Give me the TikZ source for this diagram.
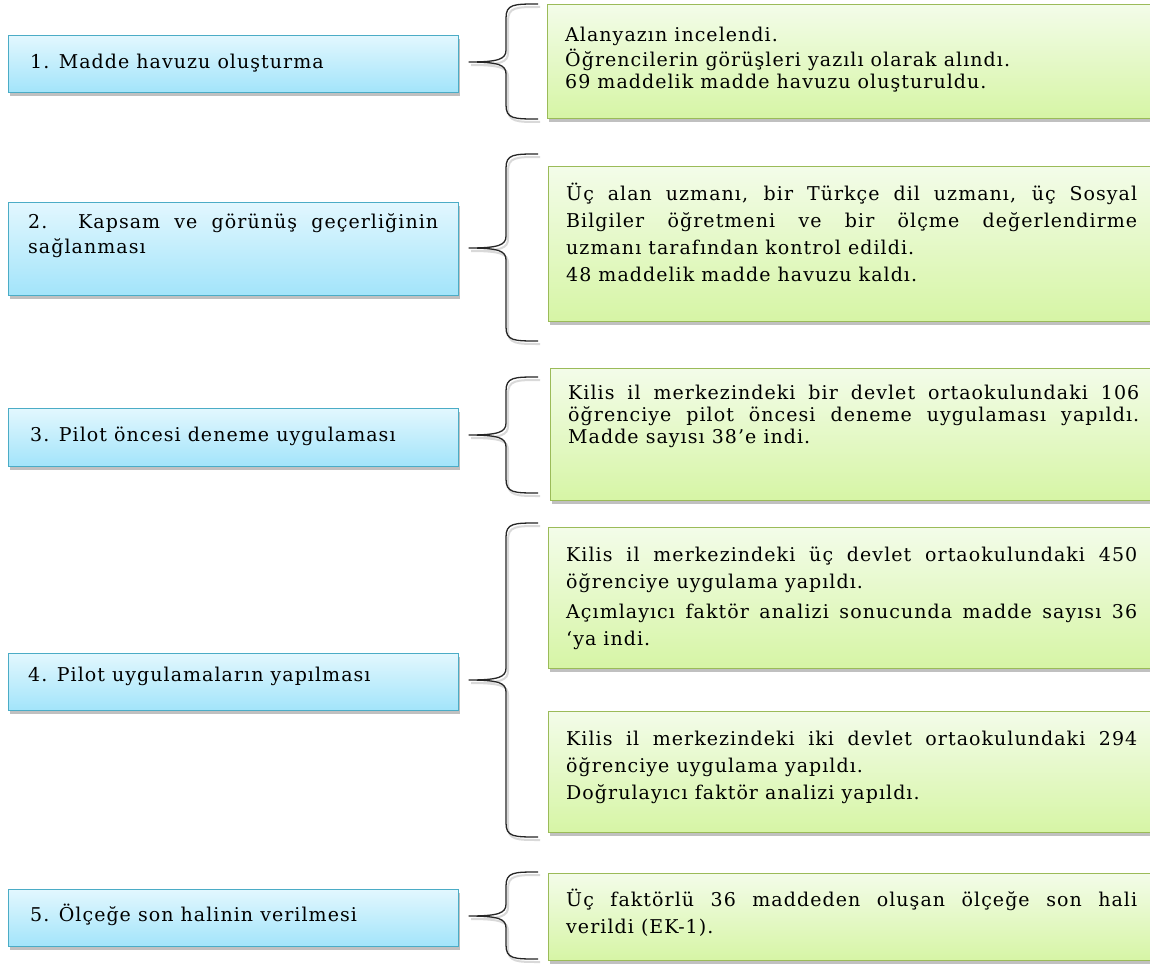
\documentclass[tikz,border=0pt]{standalone}
\usepackage{fontspec}
\setmainfont{DejaVu Serif}[LetterSpace=5.5]
\usetikzlibrary{shadows}

\definecolor{bluetop}{HTML}{E2F7FE}
\definecolor{bluebot}{HTML}{A2E4FA}
\definecolor{blueline}{HTML}{4BACC6}
\definecolor{greentop}{HTML}{F3FCE9}
\definecolor{greenbot}{HTML}{D6F5A5}
\definecolor{greenline}{HTML}{9BBB59}

\tikzset{
  boxshadow/.style={drop shadow={shadow xshift=1pt, shadow yshift=-3pt, opacity=0.35, fill=black!70}},
  stepbox/.style={draw=blueline, line width=1.2pt, top color=bluetop, bottom color=bluebot,
    anchor=north west, inner sep=0pt, minimum width=450pt, boxshadow},
  infobox/.style={draw=greenline, line width=1.2pt, top color=greentop, bottom color=greenbot,
    anchor=north west, inner sep=0pt, minimum width=620pt, boxshadow},
  steptext/.style={anchor=north west, inner sep=0pt, text width=410pt, align=justify, text=black},
  infotext/.style={anchor=north west, inner sep=0pt, text width=571pt, align=justify, text=black},
  bracelinestyle/.style={line width=1.3pt, black!85, line join=round},
  braceshade/.style={line width=2pt, black!15}
}

\newcommand{\curlybrace}[4][bracelinestyle]{%
  \draw[#1] (538,#2) .. controls (514,#2) and (506,#2) .. (506,#2+14)
    -- (506,#3-12) .. controls (506,#3-3) and (499,#3) .. (469,#3)
    .. controls (499,#3) and (506,#3+3) .. (506,#3+12)
    -- (506,#4-14) .. controls (506,#4) and (514,#4) .. (538,#4);
}

\begin{document}
\begin{tikzpicture}[x=1pt,y=-1pt]
\useasboundingbox (0,0) rectangle (1150,963);
\fill[white] (0,0) rectangle (1150,963);
\begin{scope}
\clip (0,0) rectangle (1150,963);

% step boxes (left)
\node[stepbox, minimum height=57pt] (b1) at (8,35) {};
\node[stepbox, minimum height=93pt] (b2) at (8,202) {};
\node[stepbox, minimum height=58pt] (b3) at (8,408) {};
\node[stepbox, minimum height=57pt] (b4) at (8,653) {};
\node[stepbox, minimum height=57pt] (b5) at (8,889) {};

% info boxes (right)
\node[infobox, minimum height=114pt] (g1) at (547,4) {};
\node[infobox, minimum height=155pt] (g2) at (548,166) {};
\node[infobox, minimum height=132pt] (g3) at (550,368) {};
\node[infobox, minimum height=141pt] (g4a) at (548,527) {};
\node[infobox, minimum height=121pt] (g4b) at (548,711) {};
\node[infobox, minimum height=87pt] (g5) at (548,873) {};

% step texts
\node[steptext, font=\fontsize{19}{25}\selectfont] (t1) at (30,51) {\strut 1. Madde havuzu oluşturma};
\node[steptext, font=\fontsize{19}{25}\selectfont] (t2) at (28,211) {\strut 2. Kapsam ve görünüş geçerliğinin\linebreak sağlanması};
\node[steptext, font=\fontsize{19}{25}\selectfont] (t3) at (30,424) {\strut 3. Pilot öncesi deneme uygulaması};
\node[steptext, font=\fontsize{19}{25}\selectfont] (t4) at (28,664) {\strut 4. Pilot uygulamaların yapılması};
\node[steptext, font=\fontsize{19}{25}\selectfont] (t5) at (30,904) {\strut 5. Ölçeğe son halinin verilmesi};

% info texts
\node[infotext, font=\fontsize{19}{21.5}\selectfont] (i1) at (565,26.5) {\strut Alanyazın incelendi.\\ Öğrencilerin görüşleri yazılı olarak alındı.\\ 69 maddelik madde havuzu oluşturuldu.};
\node[infotext, font=\fontsize{19}{27}\selectfont] (i2) at (566,181) {\strut Üç alan uzmanı, bir Türkçe dil uzmanı, üç Sosyal\linebreak Bilgiler öğretmeni ve bir ölçme değerlendirme\linebreak uzmanı tarafından kontrol edildi.\\ 48 maddelik madde havuzu kaldı.};
\node[infotext, font=\fontsize{19}{22}\selectfont] (i3) at (568,384) {\strut Kilis il merkezindeki bir devlet ortaokulundaki 106\linebreak öğrenciye pilot öncesi deneme uygulaması yapıldı.\linebreak Madde sayısı 38’e indi.};
\node[infotext, font=\fontsize{19}{27}\selectfont] (i4a) at (566,542) {\strut Kilis il merkezindeki üç devlet ortaokulundaki 450\linebreak öğrenciye uygulama yapıldı.\\[3pt] Açımlayıcı faktör analizi sonucunda madde sayısı 36\linebreak ‘ya indi.};
\node[infotext, font=\fontsize{19}{27}\selectfont] (i4b) at (566,726) {\strut Kilis il merkezindeki iki devlet ortaokulundaki 294\linebreak öğrenciye uygulama yapıldı.\\ Doğrulayıcı faktör analizi yapıldı.};
\node[infotext, font=\fontsize{19}{27}\selectfont] (i5) at (566,887) {\strut Üç faktörlü 36 maddeden oluşan ölçeğe son hali\linebreak verildi (EK-1).};

% braces
\begin{scope}[shift={(2,3)}]
\curlybrace[braceshade]{4}{62}{119}
\curlybrace[braceshade]{154}{248}{341}
\curlybrace[braceshade]{377}{435}{493}
\curlybrace[braceshade]{523}{680}{837}
\curlybrace[braceshade]{872}{916}{959}
\end{scope}
\curlybrace{4}{62}{119}
\curlybrace{154}{248}{341}
\curlybrace{377}{435}{493}
\curlybrace{523}{680}{837}
\curlybrace{872}{916}{959}
\end{scope}
\end{tikzpicture}
\end{document}
